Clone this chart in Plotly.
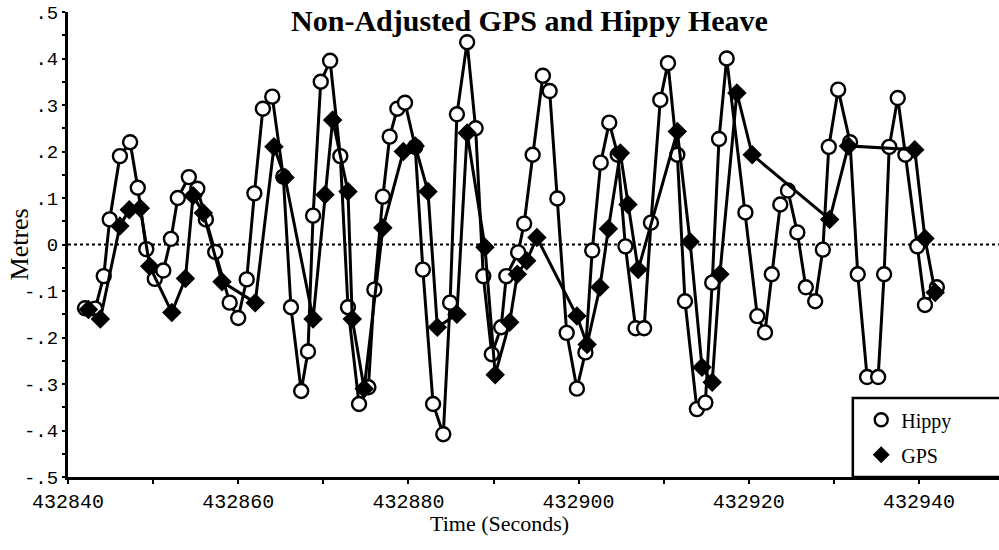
import plotly.graph_objects as go

# Hippy heave (time in seconds, heave in metres)
hippy_time = [432842.0, 432843.2, 432844.2, 432844.9, 432846.1, 432847.3, 432848.2, 432849.2,
              432850.2, 432851.2, 432852.1, 432852.9, 432854.2, 432855.2, 432856.2, 432857.3,
              432859.0, 432860.0, 432861.0, 432861.9, 432862.9, 432864.0, 432865.3, 432866.2,
              432867.4, 432868.2, 432868.8, 432869.7, 432870.8, 432872.0, 432872.9, 432874.2,
              432875.3, 432876.0, 432877.0, 432877.8, 432878.7, 432879.6, 432880.8, 432881.7,
              432882.9, 432884.1, 432884.9, 432885.7, 432886.9, 432887.9, 432888.8, 432889.8,
              432890.9, 432891.5, 432892.9, 432893.6, 432894.6, 432895.8, 432896.6, 432897.5,
              432898.6, 432899.8, 432900.8, 432901.6, 432902.6, 432903.6, 432904.6, 432905.5,
              432906.7, 432907.7, 432908.5, 432909.6, 432910.5, 432911.6, 432912.5, 432913.9,
              432914.9, 432915.7, 432916.5, 432917.4, 432919.6, 432921.0, 432921.9, 432922.7,
              432923.7, 432924.6, 432925.7, 432926.7, 432927.8, 432928.7, 432929.4, 432930.5,
              432931.9, 432932.8, 432933.9, 432935.2, 432935.9, 432936.5, 432937.5, 432938.4,
              432939.8, 432940.7, 432942.1]
hippy_heave = [-0.137, -0.138, -0.068, 0.054, 0.19, 0.22, 0.122, -0.01,
               -0.074, -0.056, 0.012, 0.10, 0.145, 0.12, 0.054, -0.016,
               -0.125, -0.158, -0.075, 0.11, 0.292, 0.318, 0.146, -0.135,
               -0.315, -0.23, 0.062, 0.35, 0.395, 0.19, -0.135, -0.343,
               -0.307, -0.097, 0.103, 0.232, 0.292, 0.305, 0.21, -0.054,
               -0.343, -0.408, -0.125, 0.28, 0.435, 0.25, -0.068, -0.236,
               -0.178, -0.068, -0.017, 0.045, 0.193, 0.363, 0.33, 0.099,
               -0.19, -0.31, -0.232, -0.013, 0.176, 0.262, 0.193, -0.004,
               -0.18, -0.18, 0.047, 0.311, 0.39, 0.193, -0.122, -0.354,
               -0.34, -0.082, 0.227, 0.40, 0.069, -0.154, -0.189, -0.064,
               0.086, 0.116, 0.026, -0.092, -0.122, -0.011, 0.21, 0.333,
               0.22, -0.064, -0.285, -0.285, -0.064, 0.21, 0.315, 0.193,
               -0.004, -0.13, -0.092]

# GPS heave
gps_time = [432842.4, 432843.8, 432846.1, 432847.2, 432848.5, 432849.6, 432852.2, 432853.8,
            432854.7, 432855.9, 432858.1, 432862.0, 432864.2, 432865.5, 432868.8, 432870.2,
            432871.1, 432872.9, 432873.4, 432874.8, 432877.0, 432879.4, 432880.8, 432882.3,
            432883.4, 432885.7, 432886.9, 432889.0, 432890.2, 432891.9, 432892.8, 432893.9,
            432895.1, 432899.8, 432901.0, 432902.5, 432903.5, 432904.9, 432905.8, 432907.0,
            432911.6, 432913.1, 432914.5, 432915.7, 432916.6, 432918.6, 432920.4, 432929.5,
            432931.7, 432939.5, 432940.7, 432941.9]
gps_heave = [-0.14, -0.16, 0.04, 0.075, 0.078, -0.047, -0.146, -0.073,
             0.105, 0.068, -0.08, -0.125, 0.21, 0.144, -0.16, 0.107,
             0.268, 0.114, -0.16, -0.31, 0.036, 0.20, 0.212, 0.114,
             -0.178, -0.15, 0.24, -0.006, -0.28, -0.167, -0.064, -0.035,
             0.015, -0.154, -0.215, -0.092, 0.034, 0.197, 0.086, -0.054,
             0.243, 0.006, -0.264, -0.296, -0.064, 0.326, 0.193, 0.054,
             0.212, 0.204, 0.013, -0.103]

y_tickvals = [0.5, 0.4, 0.3, 0.2, 0.1, 0, -0.1, -0.2, -0.3, -0.4, -0.5]
y_ticktext = [".5", ".4", ".3", ".2", ".1", "0", "-.1", "-.2", "-.3", "-.4", "-.5"]
x_tickvals = [432840, 432860, 432880, 432900, 432920, 432940]
x_ticktext = ["432840", "432860", "432880", "432900", "432920", "432940"]

serif = "Liberation Serif, Times New Roman, serif"
mono = "Liberation Mono, Courier New, monospace"

fig = go.Figure()

fig.add_trace(go.Scatter(
    x=hippy_time, y=hippy_heave, mode="lines+markers", name="Hippy", showlegend=False,
    line=dict(color="black", width=3),
    marker=dict(symbol="circle", size=14, color="white", line=dict(color="black", width=2.4)),
))
fig.add_trace(go.Scatter(
    x=gps_time, y=gps_heave, mode="lines+markers", name="GPS", showlegend=False,
    line=dict(color="black", width=3),
    marker=dict(symbol="diamond", size=15, color="black", line=dict(color="black", width=0)),
))
# legend entries (marker only, as in the original)
fig.add_trace(go.Scatter(
    x=[None], y=[None], mode="markers", name="Hippy", legendgroup="h",
    marker=dict(symbol="circle", size=13, color="white", line=dict(color="black", width=2.4)),
))
fig.add_trace(go.Scatter(
    x=[None], y=[None], mode="markers", name="GPS", legendgroup="g",
    marker=dict(symbol="diamond", size=13, color="black"),
))

# zero reference line
fig.add_shape(type="line", xref="paper", x0=0, x1=1, yref="y", y0=0, y1=0,
              line=dict(color="black", width=1.8, dash="dot"), layer="below")
# legend frame (runs off the right edge as in the original)
fig.add_shape(type="rect", xref="paper", yref="paper", x0=0.843, x1=1.01, y0=0.0, y1=0.17,
              line=dict(color="black", width=2.5), fillcolor="white", layer="above")

fig.add_annotation(text="Time (Seconds)", xref="paper", yref="paper",
                   x=0.464, y=-0.099, xanchor="center", yanchor="middle", showarrow=False,
                   font=dict(family=serif, size=22, color="black"))
fig.add_annotation(text="Metres", xref="paper", yref="paper", textangle=-90,
                   x=-0.0516, y=0.5, xanchor="center", yanchor="middle", showarrow=False,
                   font=dict(family=serif, size=26, color="black"))

fig.update_layout(
    width=999, height=550,
    margin=dict(l=68, r=0, t=12, b=73),
    paper_bgcolor="white", plot_bgcolor="white",
    title=dict(text="<b>Non-Adjusted GPS and Hippy Heave</b>", x=0.53, xanchor="center",
               y=0.962, yanchor="middle", font=dict(family=serif, size=30, color="black")),
    legend=dict(x=0.852, xanchor="left", y=0.165, yanchor="top",
                bgcolor="rgba(0,0,0,0)", borderwidth=0,
                font=dict(family=serif, size=20, color="black"),
                itemwidth=30, tracegroupgap=6),
    showlegend=True,
)
fig.update_xaxes(
    range=[432840, 432949.4], showgrid=False, zeroline=False,
    showline=True, linecolor="black", linewidth=3,
    tickmode="array", tickvals=x_tickvals, ticktext=x_ticktext,
    ticks="outside", ticklen=4, tickwidth=2, tickcolor="black",
    minor=dict(dtick=10, tick0=432840, ticks="outside", ticklen=4, tickwidth=2, tickcolor="black"),
    tickfont=dict(family=mono, size=20, color="black"),
)
fig.update_yaxes(
    range=[-0.5, 0.5], showgrid=False, zeroline=False,
    showline=True, linecolor="black", linewidth=3,
    tickmode="array", tickvals=y_tickvals, ticktext=y_ticktext,
    ticks="outside", ticklen=3, tickwidth=2, tickcolor="black",
    minor=dict(dtick=0.05, tick0=0, ticks="outside", ticklen=3, tickwidth=2, tickcolor="black"),
    tickfont=dict(family=mono, size=19, color="black"),
)

fig.write_html("out.html")
